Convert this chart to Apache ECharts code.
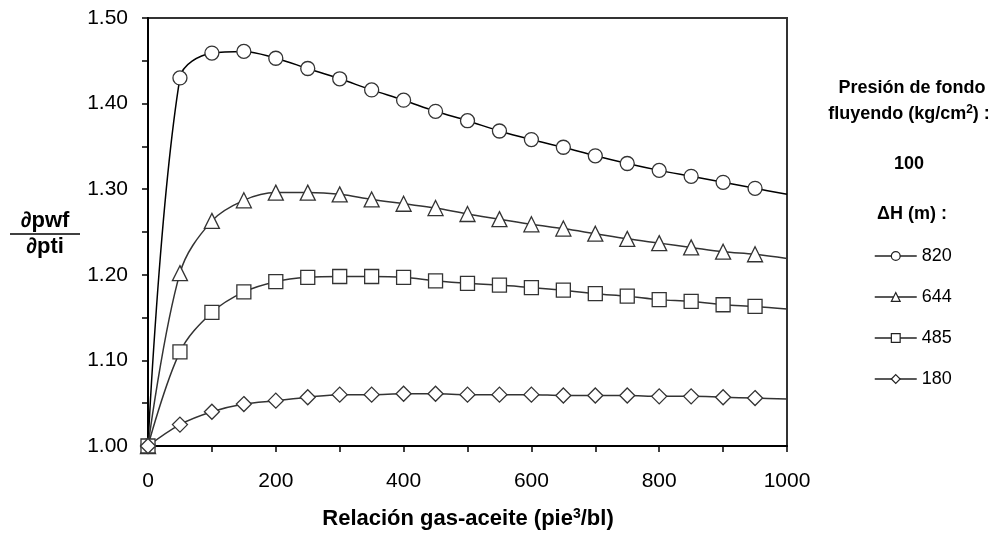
<!DOCTYPE html>
<html><head><meta charset="utf-8">
<script src="https://cdn.jsdelivr.net/npm/echarts@6/dist/echarts.min.js"></script>
<style>html,body{margin:0;padding:0;background:#fff}#c{width:997px;height:541px}</style>
</head><body><div id="c"></div>
<script>
const xs = [0,50,100,150,200,250,300,350,400,450,500,550,600,650,700,750,800,850,900,950,1000];
const h820 = [1.000,1.430,1.459,1.461,1.453,1.441,1.429,1.416,1.404,1.391,1.380,1.368,1.358,1.349,1.339,1.330,1.322,1.315,1.308,1.301,1.294];
const h644 = [1.000,1.202,1.263,1.287,1.296,1.296,1.294,1.288,1.283,1.278,1.271,1.265,1.259,1.254,1.248,1.242,1.237,1.232,1.227,1.224,1.219];
const h485 = [1.000,1.110,1.156,1.180,1.192,1.197,1.198,1.198,1.197,1.193,1.190,1.188,1.185,1.182,1.178,1.175,1.171,1.169,1.165,1.163,1.160];
const h180 = [1.000,1.025,1.040,1.049,1.053,1.057,1.060,1.060,1.061,1.061,1.060,1.060,1.060,1.059,1.059,1.059,1.058,1.058,1.057,1.056,1.055];
const seriesNames = ['820','644','485','180'];

const chart = echarts.init(document.getElementById('c'));
const font = 'Liberation Sans, Arial, sans-serif';
function mk(name, vals, sym, lineColor){
  return {
    name, type:'line', smooth:0.35, symbol:sym, symbolSize: sym==='triangle'?15:(sym==='diamond'?15:14),
    lineStyle:{color:lineColor,width:1.5},
    itemStyle:{color:'#fff',borderColor:'#333',borderWidth:1.3},
    data: xs.map((x,i)=> i===xs.length-1 ? {value:[x,vals[i]],symbol:'none'} : [x,vals[i]]),
    z: 3
  };
}
chart.setOption({
  animation:false,
  grid:{left:148,right:210,top:18,bottom:95,show:true,borderColor:'#333',borderWidth:2,backgroundColor:'transparent'},
  xAxis:{type:'value',min:0,max:1000,interval:100,
    axisLine:{lineStyle:{color:'#000',width:2}},
    axisTick:{show:true,length:6,lineStyle:{color:'#000',width:1.5}},
    splitLine:{show:false},
    axisLabel:{color:'#000',fontSize:21,fontFamily:font,margin:25,formatter:v=> (v%200===0? String(v):'')}},
  yAxis:{type:'value',min:1.0,max:1.5,interval:0.05,
    axisLine:{show:true,lineStyle:{color:'#000',width:2}},
    axisTick:{show:true,length:6,lineStyle:{color:'#000',width:1.5}},
    splitLine:{show:false},
    axisLabel:{color:'#000',fontSize:21,fontFamily:font,margin:20,formatter:v=> (Math.round(v*100)%10===0? v.toFixed(2):'')}},
  legend:{orient:'vertical',left:869,top:242,itemWidth:42,itemHeight:11,itemGap:23,
    textStyle:{color:'#000',fontSize:18,fontFamily:font},
    lineStyle:{width:1.5,color:'#222'},
    itemStyle:{borderWidth:1.2,borderColor:'#222'},
    data:seriesNames},
  graphic:[
    {type:'text',x:912,y:88,style:{text:'Presión de fondo',font:'bold 18px '+font,fill:'#000',align:'center',verticalAlign:'middle'}},
    {type:'text',x:909,y:114,style:{text:'fluyendo (kg/cm{s|2}) :',font:'bold 18px '+font,fill:'#000',align:'center',verticalAlign:'middle',rich:{s:{font:'bold 12px '+font,verticalAlign:'top',padding:[0,0,8,0]}}}},
    {type:'text',x:909,y:164,style:{text:'100',font:'bold 18px '+font,fill:'#000',align:'center',verticalAlign:'middle'}},
    {type:'text',x:912,y:214,style:{text:'ΔH (m) :',font:'bold 18px '+font,fill:'#000',align:'center',verticalAlign:'middle'}},
    {type:'text',x:45,y:221,style:{text:'∂pwf',font:'bold 22px '+font,fill:'#000',align:'center',verticalAlign:'middle'}},
    {type:'line',shape:{x1:10,y1:234,x2:80,y2:234},style:{stroke:'#000',lineWidth:1.5}},
    {type:'text',x:45,y:247,style:{text:'∂pti',font:'bold 22px '+font,fill:'#000',align:'center',verticalAlign:'middle'}},
    {type:'text',x:468,y:519,style:{text:'Relación gas-aceite (pie{s|3}/bl)',font:'bold 22px '+font,fill:'#000',align:'center',verticalAlign:'middle',rich:{s:{font:'bold 14px '+font,verticalAlign:'top',padding:[0,0,10,0]}}}}
  ],
  series:[
    mk('820',h820,'circle','#000'),
    mk('644',h644,'triangle','#333'),
    mk('485',h485,'rect','#333'),
    mk('180',h180,'diamond','#333')
  ]
});
</script></body></html>
